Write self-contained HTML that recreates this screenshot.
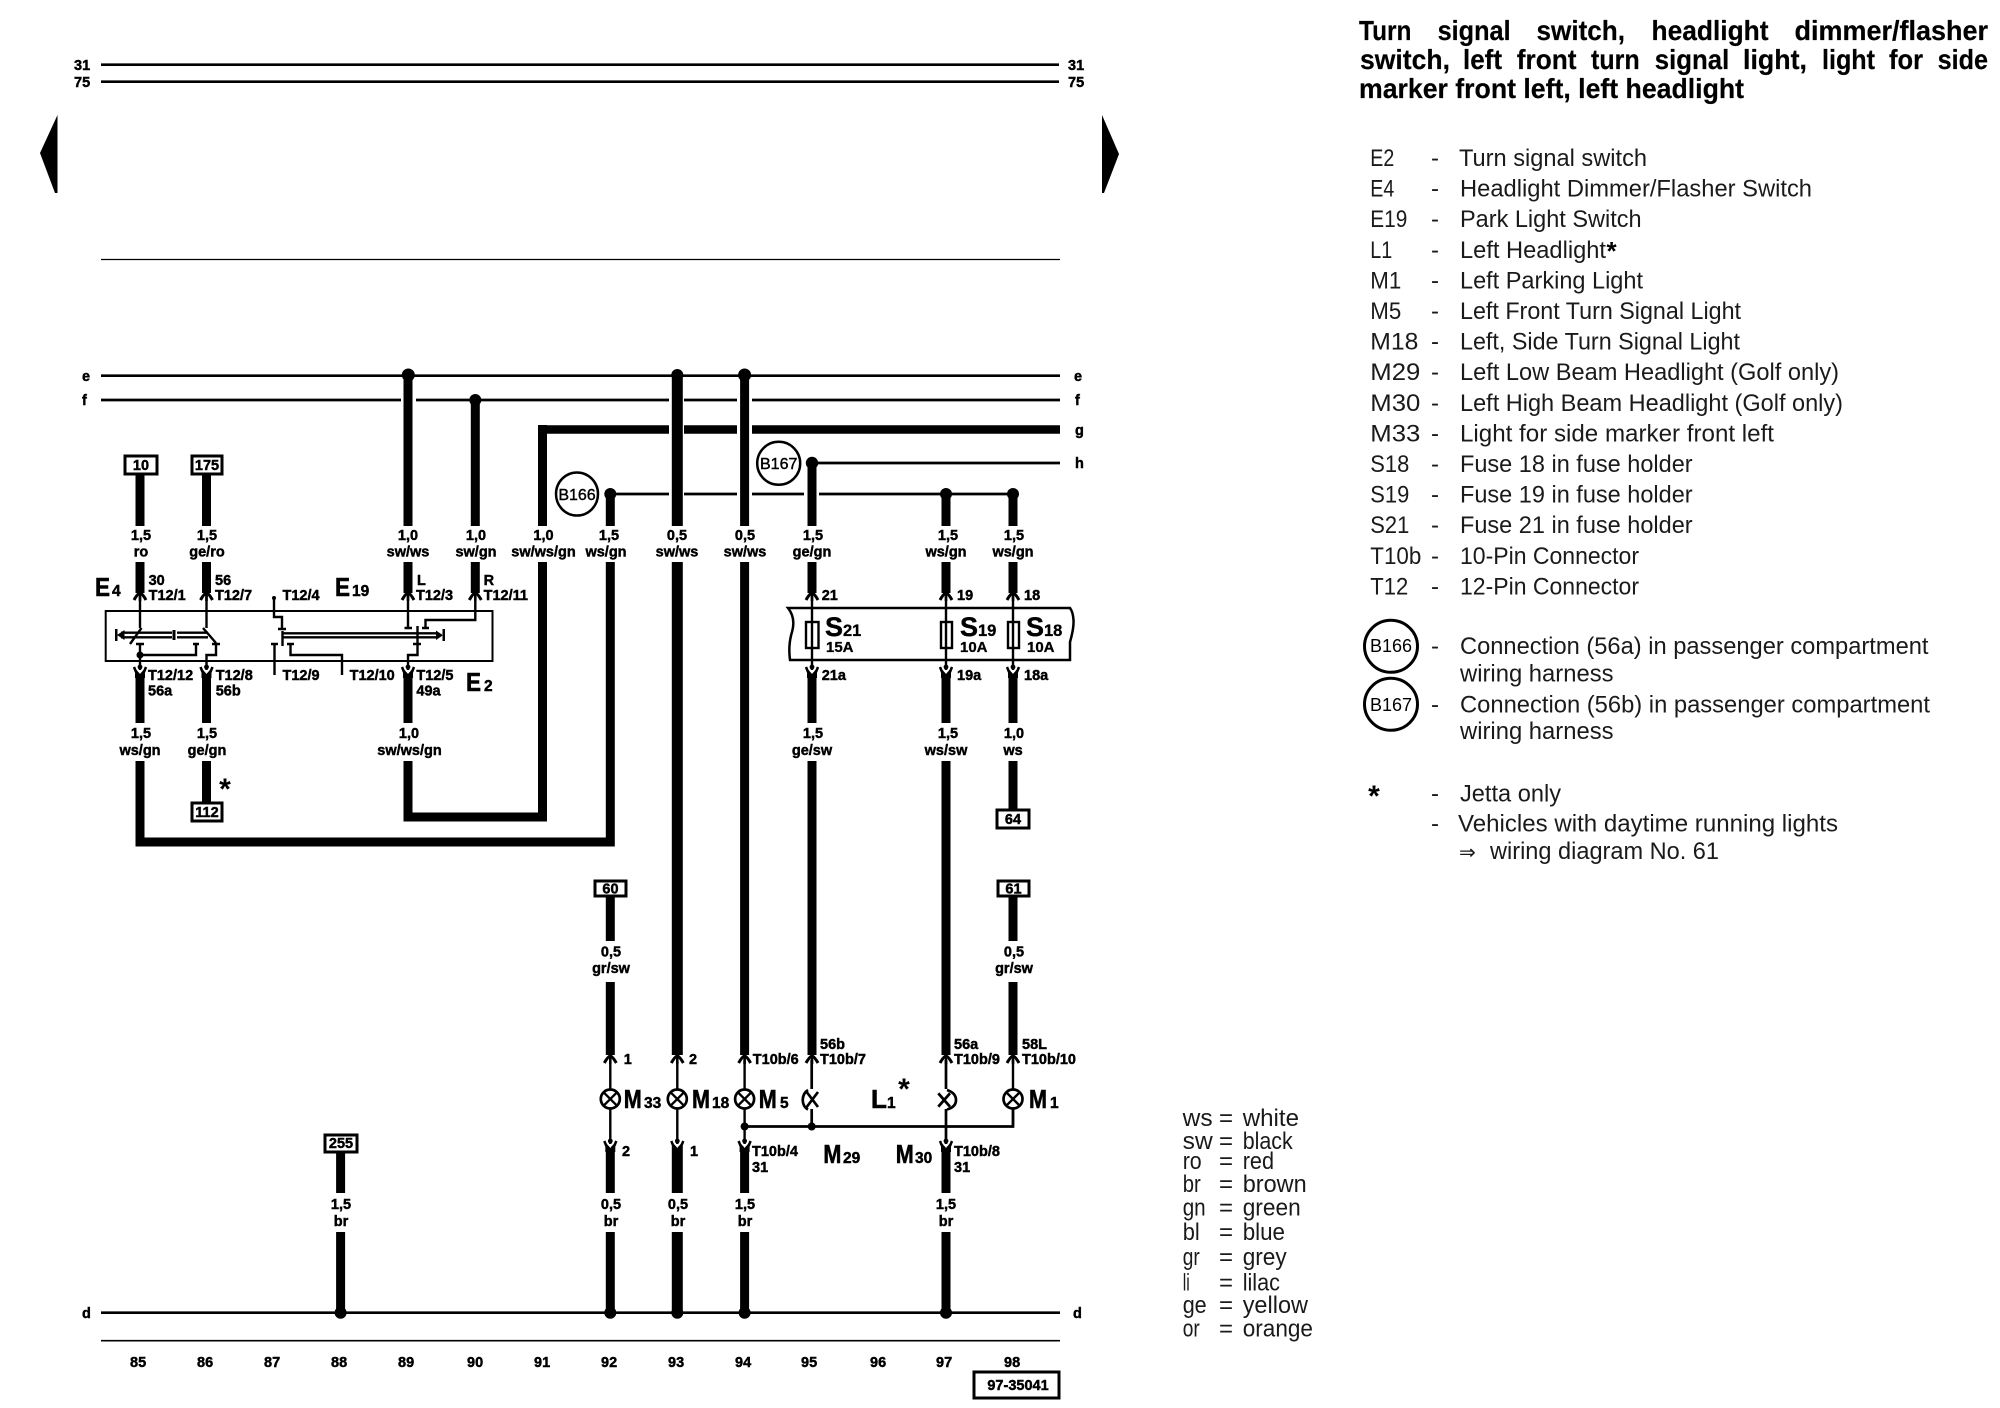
<!DOCTYPE html>
<html><head><meta charset="utf-8"><title>Wiring diagram 97-35041</title>
<style>
html,body{margin:0;padding:0;background:#fff}
svg{display:block}
text{font-family:"Liberation Sans",sans-serif;fill:#000}
.l{font-size:14.5px;font-weight:bold;stroke:#000;stroke-width:.45}
.c{text-anchor:middle}
.B{font-size:26px;font-weight:bold;stroke:#000;stroke-width:.6}
.s{font-size:15.5px;font-weight:bold;stroke:#000;stroke-width:.45}
.h{font-size:28px;font-weight:bold;stroke:#000;stroke-width:.2}
.t{font-size:24px;fill:#1a1a1a}
.w{stroke:#000;stroke-width:9;fill:none}
.x{stroke:#000;stroke-width:11;fill:none}
.n{stroke:#000;stroke-width:2.7;fill:none}
.f{stroke:#000;stroke-width:2.4;fill:none}
.r{stroke:#000;stroke-width:3;fill:#fff}
</style></head><body>
<svg xmlns="http://www.w3.org/2000/svg" width="2000" height="1408" viewBox="0 0 2000 1408">
<defs>
<g id="up"><path d="M-6 4Q-2-3 0-3Q2-3 6 4" fill="none" stroke="#000" stroke-width="3"/><rect x="-1.3" y="-3" width="2.6" height="8"/></g>
<g id="dn"><path d="M0 4L-5-2V8H5V-2Z" fill="#000"/><path d="M-3 0L0 4L3 0Z" fill="#fff"/><path d="M-6-3L-4 2M6-3L4 2" stroke="#000" stroke-width="2.5"/><circle cx="0" cy="-3" r="2.4"/></g>
</defs>

<!-- top rails -->
<path class="n" d="M101 64.7H1059M101 81.7H1059"/>
<text class="l" x="74" y="70">31</text><text class="l" x="74" y="87">75</text>
<text class="l" x="1068" y="70">31</text><text class="l" x="1068" y="87">75</text>
<path d="M57.5 115V193H55L40 153Z"/>
<path d="M1102 115V193H1104L1119 154Z"/>
<path d="M101 259.5H1060" stroke="#000" stroke-width="1.2"/>

<!-- bus lines -->
<path class="n" d="M101 375.7H1060M101 400H401M416 400H669M684 400H737M752 400H1060"/>
<path d="M538 429.5H669M684 429.5H737M752 429.5H1060" stroke="#000" stroke-width="8.6" fill="none"/>
<path class="n" d="M811 463H1060M610 494H669M684 494H737M752 494H804M819 494H1013"/>
<text class="l" x="82" y="381">e</text><text class="l" x="82" y="405">f</text>
<text class="l" x="1074" y="381">e</text><text class="l" x="1075" y="405">f</text>
<text class="l" x="1075" y="435">g</text><text class="l" x="1075" y="468">h</text>
<text class="l" x="82" y="1318">d</text><text class="l" x="1073" y="1318">d</text>
<path class="n" d="M101 1312.7H1060"/>
<path d="M101 1340.7H1060" stroke="#000" stroke-width="1.6"/>

<!-- wires -->
<path class="w" d="M140 473V526M140 562V593M206.5 473V526M206.5 562V593M140 673V723M206.5 673V723M206.5 761V803M408 375V526M408 562V593M475.3 400V526M475.3 562V593M408 673V723"/>
<path class="w" d="M408 761V817H542.5V562M542.5 526V425"/>
<path class="w" d="M140 761V842H610.3V562M610.3 494V526"/>
<path class="x" d="M677.3 375V526M677.3 562V1055"/>
<path class="w" d="M744.6 375V526M744.6 562V1055"/>
<path class="w" d="M812 463V526M812 562V593M812 673V723M812 761V1055"/>
<path class="w" d="M946 494V526M946 562V593M946 673V723M946 761V1055"/>
<path class="w" d="M1013 494V526M1013 562V593M1013 673V723M1013 761V810"/>
<path class="w" d="M610.3 896V941M610.3 982V1055M1013 896V941M1013 982V1055"/>
<path class="w" d="M610.3 1146V1193M610.3 1232V1312M744.6 1146V1193M744.6 1232V1312M946 1146V1193M946 1232V1312"/>
<path class="x" d="M677.3 1146V1193M677.3 1232V1312"/>
<path class="w" d="M340.6 1152V1193M340.6 1232V1312"/>

<!-- dots -->
<g>
<circle cx="408.3" cy="375" r="6.5"/><circle cx="475.3" cy="400" r="6"/><circle cx="677.3" cy="375" r="6"/><circle cx="744.6" cy="375" r="6.5"/>
<circle cx="610.3" cy="494" r="6"/><circle cx="812" cy="463" r="6.2"/><circle cx="946" cy="494" r="6"/><circle cx="1013" cy="494" r="6"/>
<circle cx="340.6" cy="1312.7" r="6"/><circle cx="610.3" cy="1312.7" r="6"/><circle cx="677.3" cy="1312.7" r="6"/><circle cx="744.6" cy="1312.7" r="6"/><circle cx="946" cy="1312.7" r="6"/>
</g>

<!-- boxes -->
<rect class="r" x="125" y="456" width="32" height="18"/><text class="l c" x="141" y="470">10</text>
<rect class="r" x="192" y="456" width="30" height="18"/><text class="l c" x="207" y="470">175</text>
<rect class="r" x="192" y="803" width="30" height="18"/><text class="l c" x="207" y="817">112</text>
<rect class="r" x="997" y="810" width="32" height="18"/><text class="l c" x="1013" y="824">64</text>
<rect class="r" x="595" y="881" width="31" height="15"/><text class="l c" x="610.5" y="893.5">60</text>
<rect class="r" x="998" y="881" width="31" height="15"/><text class="l c" x="1013.5" y="893.5">61</text>
<rect class="r" x="325" y="1135" width="32" height="17"/><text class="l c" x="341" y="1148">255</text>
<rect class="r" x="974" y="1372" width="85" height="26"/><text class="l c" x="1018" y="1390">97-35041</text>

<!-- splice circles -->
<ellipse cx="577" cy="494" rx="21" ry="21.5" fill="#fff" stroke="#000" stroke-width="2.5"/><text class="c" x="577" y="500" font-size="16" stroke="#000" stroke-width=".4">B166</text>
<ellipse cx="778.7" cy="463.3" rx="21.5" ry="21.5" fill="#fff" stroke="#000" stroke-width="2.5"/><text class="c" x="778.7" y="469" font-size="16" stroke="#000" stroke-width=".4">B167</text>

<!-- wire labels -->
<g class="l">
<text class="l c" x="141" y="540">1,5</text><text class="l c" x="141" y="556.7">ro</text>
<text class="l c" x="207" y="540">1,5</text><text class="l c" x="207" y="556.7">ge/ro</text>
<text class="l c" x="408" y="540">1,0</text><text class="l c" x="408" y="556.7">sw/ws</text>
<text class="l c" x="476" y="540">1,0</text><text class="l c" x="476" y="556.7">sw/gn</text>
<text class="l c" x="543.5" y="540">1,0</text><text class="l c" x="543.5" y="556.7">sw/ws/gn</text>
<text class="l c" x="609" y="540">1,5</text><text class="l c" x="606" y="556.7">ws/gn</text>
<text class="l c" x="677" y="540">0,5</text><text class="l c" x="677" y="556.7">sw/ws</text>
<text class="l c" x="745" y="540">0,5</text><text class="l c" x="745" y="556.7">sw/ws</text>
<text class="l c" x="813" y="540">1,5</text><text class="l c" x="812" y="556.7">ge/gn</text>
<text class="l c" x="948" y="540">1,5</text><text class="l c" x="946" y="556.7">ws/gn</text>
<text class="l c" x="1014" y="540">1,5</text><text class="l c" x="1013" y="556.7">ws/gn</text>
<text class="l c" x="141" y="738">1,5</text><text class="l c" x="140" y="755">ws/gn</text>
<text class="l c" x="207" y="738">1,5</text><text class="l c" x="207" y="755">ge/gn</text>
<text class="l c" x="409" y="738">1,0</text><text class="l c" x="409.5" y="755">sw/ws/gn</text>
<text class="l c" x="813" y="738">1,5</text><text class="l c" x="812" y="755">ge/sw</text>
<text class="l c" x="948" y="738">1,5</text><text class="l c" x="946" y="755">ws/sw</text>
<text class="l c" x="1014" y="738">1,0</text><text class="l c" x="1013" y="755">ws</text>
<text class="l c" x="611" y="956.5">0,5</text><text class="l c" x="611" y="973">gr/sw</text>
<text class="l c" x="1014" y="956.5">0,5</text><text class="l c" x="1014" y="973">gr/sw</text>
<text class="l c" x="341" y="1209">1,5</text><text class="l c" x="341" y="1226">br</text>
<text class="l c" x="611" y="1209">0,5</text><text class="l c" x="611" y="1226">br</text>
<text class="l c" x="678" y="1209">0,5</text><text class="l c" x="678" y="1226">br</text>
<text class="l c" x="745" y="1209">1,5</text><text class="l c" x="745" y="1226">br</text>
<text class="l c" x="946" y="1209">1,5</text><text class="l c" x="946" y="1226">br</text>
</g>

<!-- switch box -->
<rect x="105.7" y="611" width="386.8" height="50" fill="none" stroke="#000" stroke-width="2"/>
<path class="f" d="M140 595V628M206.5 595V628"/>
<path class="f" d="M141.5 628L130 644M203 628L216 643"/>
<path class="f" d="M121 632.7H172M121 637.3H172M177 632.7H208M177 637.3H208"/>
<path d="M124.5 630V640L117 635ZM115 629H117.5V641H115ZM172.5 630H175.5V640H172.5Z"/>
<path class="f" d="M136 644H144M140 644V673M140 655H196V644M193 644H199M212 644H220M216 644V655H206.5V673"/>
<circle cx="140" cy="655" r="3.5"/>
<path class="f" d="M274 598V617H282V629M278 629H286M282.5 631V646M271 644H278M274.5 644V675"/>
<circle cx="274" cy="598" r="2"/>
<path class="f" d="M283.5 633.3H438M283.5 637.3H438M287 644H294M290.5 644V655H342V675"/>
<path d="M436 630.5V640L443 635.3ZM442.5 629H445V641H442.5Z"/>
<path class="f" d="M408 595V628M404.5 628H412M475.3 595V620H425.5V628M422 628H429"/>
<path class="f" d="M417.5 626V644M413 644H421M417.5 644V655H408V673"/>

<use href="#up" x="140" y="596"/><use href="#up" x="206.5" y="596"/><use href="#up" x="408" y="596"/><use href="#up" x="475.3" y="596"/>
<use href="#dn" x="140" y="670"/><use href="#dn" x="206.5" y="670"/><use href="#dn" x="408" y="670"/>

<text class="l" x="148.6" y="585">30</text><text class="l" x="148.6" y="600">T12/1</text>
<text class="l" x="215" y="585">56</text><text class="l" x="215" y="600">T12/7</text>
<text class="l" x="282.5" y="600">T12/4</text>
<text class="l" x="417" y="585">L</text><text class="l" x="416" y="600">T12/3</text>
<text class="l" x="483.6" y="585">R</text><text class="l" x="483.6" y="600">T12/11</text>
<text class="l" x="148" y="680">T12/12</text><text class="l" x="148" y="695.5">56a</text>
<text class="l" x="215.7" y="680">T12/8</text><text class="l" x="215.7" y="695.5">56b</text>
<text class="l" x="282.5" y="680">T12/9</text><text class="l" x="349.6" y="680">T12/10</text>
<text class="l" x="416.4" y="680">T12/5</text><text class="l" x="416.4" y="695.5">49a</text>
<text class="B" x="95" y="596" textLength="15" lengthAdjust="spacingAndGlyphs">E</text><text class="s" x="112" y="596">4</text>
<text class="B" x="335" y="596" textLength="15" lengthAdjust="spacingAndGlyphs">E</text><text class="s" x="352" y="596">19</text>
<text class="B" x="466" y="691" textLength="15" lengthAdjust="spacingAndGlyphs">E</text><text class="s" x="484" y="691">2</text>
<text class="c" x="225" y="799" font-size="30" font-weight="bold">*</text>

<!-- fuse strip -->
<path d="M788 608H1070Q1073 612 1073.5 620Q1074 628 1070 642L1070 660H790Q788 645 792 632Q796 618 788 608Z" fill="none" stroke="#000" stroke-width="2.5"/>
<g fill="none" stroke="#000" stroke-width="2.4">
<rect x="806" y="622" width="12.5" height="26"/><rect x="941" y="622" width="11" height="26"/><rect x="1008" y="622" width="11" height="26"/>
</g>
<path class="f" d="M812 595V673M946 595V673M1013 595V673"/>
<use href="#up" x="812" y="596"/><use href="#up" x="946" y="596"/><use href="#up" x="1013" y="596"/>
<use href="#dn" x="812" y="670"/><use href="#dn" x="946" y="670"/><use href="#dn" x="1013" y="670"/>
<text class="l" x="821.7" y="600">21</text><text class="l" x="957" y="600">19</text><text class="l" x="1024" y="600">18</text>
<text class="l" x="821.7" y="680">21a</text><text class="l" x="957" y="680">19a</text><text class="l" x="1024" y="680">18a</text>
<text x="825" y="636" font-size="27" font-weight="bold" stroke="#000" stroke-width=".4">S</text><text x="843" y="636" font-size="16.5" font-weight="bold" stroke="#000" stroke-width=".3">21</text>
<text x="960" y="636" font-size="27" font-weight="bold" stroke="#000" stroke-width=".4">S</text><text x="978" y="636" font-size="16.5" font-weight="bold" stroke="#000" stroke-width=".3">19</text>
<text x="1026" y="636" font-size="27" font-weight="bold" stroke="#000" stroke-width=".4">S</text><text x="1044" y="636" font-size="16.5" font-weight="bold" stroke="#000" stroke-width=".3">18</text>
<text x="826" y="652" font-size="15" font-weight="bold" stroke="#000" stroke-width=".3">15A</text><text x="960" y="652" font-size="15" font-weight="bold" stroke="#000" stroke-width=".3">10A</text><text x="1027" y="652" font-size="15" font-weight="bold" stroke="#000" stroke-width=".3">10A</text>

<!-- lamps -->
<path class="f" d="M610.3 1060V1145M677.3 1060V1145M744.6 1060V1145M1013 1060V1126"/>
<path class="n" d="M811.7 1060V1089M946 1060V1089M946 1109V1145"/>
<use href="#up" x="610.3" y="1059"/><use href="#up" x="677.3" y="1059"/><use href="#up" x="744.6" y="1059"/><use href="#up" x="812" y="1059"/><use href="#up" x="946" y="1059"/><use href="#up" x="1013" y="1059"/>
<g fill="#fff" stroke="#000" stroke-width="2.7">
<circle cx="610.3" cy="1099" r="9.5"/><circle cx="677.3" cy="1099" r="9.5"/><circle cx="744.6" cy="1099" r="9.5"/><circle cx="1013" cy="1099" r="9.5"/>
</g>
<path class="f" d="M603.6 1092.3L617 1105.7M603.6 1105.7L617 1092.3M670.6 1092.3L684 1105.7M670.6 1105.7L684 1092.3M737.9 1092.3L751.3 1105.7M737.9 1105.7L751.3 1092.3M1006.3 1092.3L1019.7 1105.7M1006.3 1105.7L1019.7 1092.3"/>
<path class="n" d="M808 1090Q803 1093 802.7 1100Q803 1107 808 1109.5M806.7 1092L818 1107M806.7 1107L818 1092M811.7 1109V1126"/>
<path class="n" d="M947 1090Q956 1093 956 1100Q956 1107 947 1109.5M938.3 1093.3L950 1106.7M938.3 1106.7L950 1093.3"/>
<path class="n" d="M744.6 1126.5H1013V1109"/>
<circle cx="744.6" cy="1126.5" r="4"/><circle cx="811.7" cy="1126.5" r="4"/>
<use href="#dn" x="610.3" y="1144"/><use href="#dn" x="677.3" y="1144"/><use href="#dn" x="744.6" y="1144"/><use href="#dn" x="946" y="1144"/>

<text class="l" x="623.7" y="1064">1</text><text class="l" x="689" y="1064">2</text><text class="l" x="752.8" y="1064">T10b/6</text>
<text class="l" x="820" y="1049">56b</text><text class="l" x="820" y="1064">T10b/7</text>
<text class="l" x="954" y="1049">56a</text><text class="l" x="954" y="1064">T10b/9</text>
<text class="l" x="1022" y="1049">58L</text><text class="l" x="1022" y="1064">T10b/10</text>
<text class="l" x="622" y="1156">2</text><text class="l" x="690" y="1156">1</text>
<text class="l" x="752" y="1156">T10b/4</text><text class="l" x="752" y="1172">31</text>
<text class="l" x="954" y="1156">T10b/8</text><text class="l" x="954" y="1172">31</text>

<text class="B" x="623.7" y="1108" textLength="18" lengthAdjust="spacingAndGlyphs">M</text><text class="s" x="644" y="1108">33</text>
<text class="B" x="692" y="1108" textLength="18" lengthAdjust="spacingAndGlyphs">M</text><text class="s" x="712" y="1108">18</text>
<text class="B" x="758.7" y="1108" textLength="18" lengthAdjust="spacingAndGlyphs">M</text><text class="s" x="780" y="1108">5</text>
<text class="B" x="871" y="1108">L</text><text class="s" x="887" y="1108">1</text>
<text class="B" x="1029" y="1108" textLength="18" lengthAdjust="spacingAndGlyphs">M</text><text class="s" x="1050" y="1108">1</text>
<text class="B" x="823.4" y="1163" textLength="18" lengthAdjust="spacingAndGlyphs">M</text><text class="s" x="843" y="1163">29</text>
<text class="B" x="895.7" y="1163" textLength="18" lengthAdjust="spacingAndGlyphs">M</text><text class="s" x="915" y="1163">30</text>
<text class="c" x="904" y="1099" font-size="30" font-weight="bold">*</text>

<!-- column numbers -->
<text class="l" x="130" y="1367">85</text><text class="l" x="197" y="1367">86</text><text class="l" x="264" y="1367">87</text><text class="l" x="331" y="1367">88</text><text class="l" x="398" y="1367">89</text><text class="l" x="467" y="1367">90</text><text class="l" x="534" y="1367">91</text>
<text class="l" x="601" y="1367">92</text><text class="l" x="668" y="1367">93</text><text class="l" x="735" y="1367">94</text><text class="l" x="801" y="1367">95</text><text class="l" x="870" y="1367">96</text><text class="l" x="936" y="1367">97</text><text class="l" x="1004" y="1367">98</text>

<!-- title -->
<g>
<text class="h" x="1359" y="40" textLength="52.5" lengthAdjust="spacingAndGlyphs">Turn</text>
<text class="h" x="1437.6" y="40" textLength="73" lengthAdjust="spacingAndGlyphs">signal</text>
<text class="h" x="1536.5" y="40" textLength="88.5" lengthAdjust="spacingAndGlyphs">switch,</text>
<text class="h" x="1651.5" y="40" textLength="117" lengthAdjust="spacingAndGlyphs">headlight</text>
<text class="h" x="1794.5" y="40" textLength="193.5" lengthAdjust="spacingAndGlyphs">dimmer/flasher</text>
<text class="h" x="1360" y="69" textLength="90" lengthAdjust="spacingAndGlyphs">switch,</text>
<text class="h" x="1463" y="69" textLength="39" lengthAdjust="spacingAndGlyphs">left</text>
<text class="h" x="1516.8" y="69" textLength="59.7" lengthAdjust="spacingAndGlyphs">front</text>
<text class="h" x="1591" y="69" textLength="48.7" lengthAdjust="spacingAndGlyphs">turn</text>
<text class="h" x="1654.8" y="69" textLength="74.5" lengthAdjust="spacingAndGlyphs">signal</text>
<text class="h" x="1743" y="69" textLength="64" lengthAdjust="spacingAndGlyphs">light,</text>
<text class="h" x="1822" y="69" textLength="53" lengthAdjust="spacingAndGlyphs">light</text>
<text class="h" x="1889" y="69" textLength="34" lengthAdjust="spacingAndGlyphs">for</text>
<text class="h" x="1937.6" y="69" textLength="50.4" lengthAdjust="spacingAndGlyphs">side</text>
<text class="h" x="1359" y="98" textLength="385" lengthAdjust="spacingAndGlyphs">marker front left, left headlight</text>
</g>

<!-- legend -->
<text class="t" x="1370.3" y="166" textLength="24" lengthAdjust="spacingAndGlyphs">E2</text><text class="t" x="1431" y="166">-</text><text class="t" x="1459" y="166" textLength="188" lengthAdjust="spacingAndGlyphs">Turn signal switch</text>
<text class="t" x="1370.3" y="196.6" textLength="24" lengthAdjust="spacingAndGlyphs">E4</text><text class="t" x="1431" y="196.6">-</text><text class="t" x="1460" y="196.6" textLength="352" lengthAdjust="spacingAndGlyphs">Headlight Dimmer/Flasher Switch</text>
<text class="t" x="1370.3" y="227.2" textLength="37" lengthAdjust="spacingAndGlyphs">E19</text><text class="t" x="1431" y="227.2">-</text><text class="t" x="1460" y="227.2" textLength="181.6" lengthAdjust="spacingAndGlyphs">Park Light Switch</text>
<text class="t" x="1370.3" y="257.8" textLength="22" lengthAdjust="spacingAndGlyphs">L1</text><text class="t" x="1431" y="257.8">-</text><text class="t" x="1460" y="257.8" textLength="146" lengthAdjust="spacingAndGlyphs">Left Headlight</text><text x="1606.5" y="260" font-size="26" font-weight="bold">*</text>
<text class="t" x="1370.3" y="288.4" textLength="31" lengthAdjust="spacingAndGlyphs">M1</text><text class="t" x="1431" y="288.4">-</text><text class="t" x="1460" y="288.4" textLength="183" lengthAdjust="spacingAndGlyphs">Left Parking Light</text>
<text class="t" x="1370.3" y="319" textLength="31" lengthAdjust="spacingAndGlyphs">M5</text><text class="t" x="1431" y="319">-</text><text class="t" x="1460" y="319" textLength="281" lengthAdjust="spacingAndGlyphs">Left Front Turn Signal Light</text>
<text class="t" x="1370.3" y="349.6" textLength="48" lengthAdjust="spacingAndGlyphs">M18</text><text class="t" x="1431" y="349.6">-</text><text class="t" x="1460" y="349.6" textLength="280" lengthAdjust="spacingAndGlyphs">Left, Side Turn Signal Light</text>
<text class="t" x="1370.3" y="380.2" textLength="50" lengthAdjust="spacingAndGlyphs">M29</text><text class="t" x="1431" y="380.2">-</text><text class="t" x="1460" y="380.2" textLength="379" lengthAdjust="spacingAndGlyphs">Left Low Beam Headlight (Golf only)</text>
<text class="t" x="1370.3" y="410.8" textLength="50" lengthAdjust="spacingAndGlyphs">M30</text><text class="t" x="1431" y="410.8">-</text><text class="t" x="1460" y="410.8" textLength="383" lengthAdjust="spacingAndGlyphs">Left High Beam Headlight (Golf only)</text>
<text class="t" x="1370.3" y="441.4" textLength="50" lengthAdjust="spacingAndGlyphs">M33</text><text class="t" x="1431" y="441.4">-</text><text class="t" x="1460" y="441.4" textLength="314" lengthAdjust="spacingAndGlyphs">Light for side marker front left</text>
<text class="t" x="1370.3" y="472" textLength="39" lengthAdjust="spacingAndGlyphs">S18</text><text class="t" x="1431" y="472">-</text><text class="t" x="1460" y="472" textLength="232.6" lengthAdjust="spacingAndGlyphs">Fuse 18 in fuse holder</text>
<text class="t" x="1370.3" y="502.6" textLength="39" lengthAdjust="spacingAndGlyphs">S19</text><text class="t" x="1431" y="502.6">-</text><text class="t" x="1460" y="502.6" textLength="232.6" lengthAdjust="spacingAndGlyphs">Fuse 19 in fuse holder</text>
<text class="t" x="1370.3" y="533.2" textLength="39" lengthAdjust="spacingAndGlyphs">S21</text><text class="t" x="1431" y="533.2">-</text><text class="t" x="1460" y="533.2" textLength="232.6" lengthAdjust="spacingAndGlyphs">Fuse 21 in fuse holder</text>
<text class="t" x="1370.3" y="563.8" textLength="51" lengthAdjust="spacingAndGlyphs">T10b</text><text class="t" x="1431" y="563.8">-</text><text class="t" x="1460" y="563.8" textLength="179" lengthAdjust="spacingAndGlyphs">10-Pin Connector</text>
<text class="t" x="1370.3" y="594.4" textLength="38" lengthAdjust="spacingAndGlyphs">T12</text><text class="t" x="1431" y="594.4">-</text><text class="t" x="1460" y="594.4" textLength="179" lengthAdjust="spacingAndGlyphs">12-Pin Connector</text>

<ellipse cx="1391" cy="646.3" rx="26.5" ry="26" fill="none" stroke="#000" stroke-width="3"/>
<ellipse cx="1391" cy="704.3" rx="26.5" ry="26" fill="none" stroke="#000" stroke-width="3"/>
<text class="c" x="1391" y="652" font-size="18" fill="#1a1a1a">B166</text>
<text class="c" x="1391" y="711" font-size="18" fill="#1a1a1a">B167</text>
<text class="t" x="1431" y="654">-</text><text class="t" x="1460" y="654" textLength="468.5" lengthAdjust="spacingAndGlyphs">Connection (56a) in passenger compartment</text>
<text class="t" x="1460" y="681.7" textLength="153.5" lengthAdjust="spacingAndGlyphs">wiring harness</text>
<text class="t" x="1431" y="712.7">-</text><text class="t" x="1460" y="712.7" textLength="470" lengthAdjust="spacingAndGlyphs">Connection (56b) in passenger compartment</text>
<text class="t" x="1460" y="739" textLength="153.5" lengthAdjust="spacingAndGlyphs">wiring harness</text>
<text class="c" x="1374" y="806" font-size="30" font-weight="bold">*</text>
<text class="t" x="1431" y="801.7">-</text><text class="t" x="1460" y="801.7" textLength="101" lengthAdjust="spacingAndGlyphs">Jetta only</text>
<text class="t" x="1431" y="831.7">-</text><text class="t" x="1458" y="831.7" textLength="380" lengthAdjust="spacingAndGlyphs">Vehicles with daytime running lights</text>
<text class="t" x="1459" y="859" style="font-family:'DejaVu Sans',sans-serif;font-size:20px">⇒</text>
<text class="t" x="1490" y="859" textLength="229" lengthAdjust="spacingAndGlyphs">wiring diagram No. 61</text>

<!-- colour key -->
<text class="t" x="1182.7" y="1126" textLength="30" lengthAdjust="spacingAndGlyphs">ws</text><text class="t" x="1219" y="1126">=</text><text class="t" x="1242.7" y="1126" textLength="56.3" lengthAdjust="spacingAndGlyphs">white</text>
<text class="t" x="1182.7" y="1149" textLength="30" lengthAdjust="spacingAndGlyphs">sw</text><text class="t" x="1219" y="1149">=</text><text class="t" x="1242.7" y="1149" textLength="50" lengthAdjust="spacingAndGlyphs">black</text>
<text class="t" x="1182.7" y="1169" textLength="19" lengthAdjust="spacingAndGlyphs">ro</text><text class="t" x="1219" y="1169">=</text><text class="t" x="1242.7" y="1169" textLength="31.3" lengthAdjust="spacingAndGlyphs">red</text>
<text class="t" x="1182.7" y="1192" textLength="18" lengthAdjust="spacingAndGlyphs">br</text><text class="t" x="1219" y="1192">=</text><text class="t" x="1242.7" y="1192" textLength="64" lengthAdjust="spacingAndGlyphs">brown</text>
<text class="t" x="1182.7" y="1215.7" textLength="23" lengthAdjust="spacingAndGlyphs">gn</text><text class="t" x="1219" y="1215.7">=</text><text class="t" x="1242.7" y="1215.7" textLength="58" lengthAdjust="spacingAndGlyphs">green</text>
<text class="t" x="1182.7" y="1240" textLength="17" lengthAdjust="spacingAndGlyphs">bl</text><text class="t" x="1219" y="1240">=</text><text class="t" x="1242.7" y="1240" textLength="42.3" lengthAdjust="spacingAndGlyphs">blue</text>
<text class="t" x="1182.7" y="1265" textLength="17" lengthAdjust="spacingAndGlyphs">gr</text><text class="t" x="1219" y="1265">=</text><text class="t" x="1242.7" y="1265" textLength="44" lengthAdjust="spacingAndGlyphs">grey</text>
<text class="t" x="1182.7" y="1290.7" textLength="7" lengthAdjust="spacingAndGlyphs">li</text><text class="t" x="1219" y="1290.7">=</text><text class="t" x="1242.7" y="1290.7" textLength="37.3" lengthAdjust="spacingAndGlyphs">lilac</text>
<text class="t" x="1182.7" y="1313" textLength="24" lengthAdjust="spacingAndGlyphs">ge</text><text class="t" x="1219" y="1313">=</text><text class="t" x="1242.7" y="1313" textLength="65.3" lengthAdjust="spacingAndGlyphs">yellow</text>
<text class="t" x="1182.7" y="1336.7" textLength="17" lengthAdjust="spacingAndGlyphs">or</text><text class="t" x="1219" y="1336.7">=</text><text class="t" x="1242.7" y="1336.7" textLength="70.3" lengthAdjust="spacingAndGlyphs">orange</text>
</svg>
</body></html>
